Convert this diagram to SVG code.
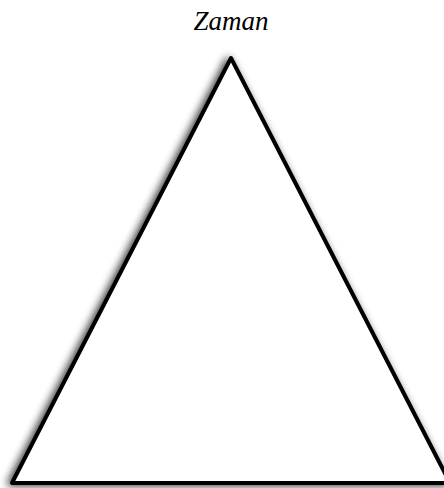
<svg xmlns="http://www.w3.org/2000/svg" width="444" height="488" viewBox="0 0 444 488">
<defs>
<filter id="sh" x="-20%" y="-20%" width="140%" height="140%">
<feGaussianBlur in="SourceAlpha" stdDeviation="4"/>
<feOffset dx="-3" dy="1" result="b"/>
<feComponentTransfer in="b" result="c"><feFuncA type="linear" slope="0.8"/></feComponentTransfer>
<feMerge><feMergeNode in="c"/><feMergeNode in="SourceGraphic"/></feMerge>
</filter>
<style>
.lbl{font-family:"Liberation Serif",serif;font-style:italic;font-size:27px;fill:#000}
.tri{fill:#fff;stroke:#000;stroke-width:4;stroke-linejoin:round}
</style>
</defs>
<g id="label"><text class="lbl" x="231" y="30" text-anchor="middle">Zaman</text></g>
<g id="triangle"><polygon class="tri" filter="url(#sh)" points="231,58 12,483 450,483"/></g>
</svg>
